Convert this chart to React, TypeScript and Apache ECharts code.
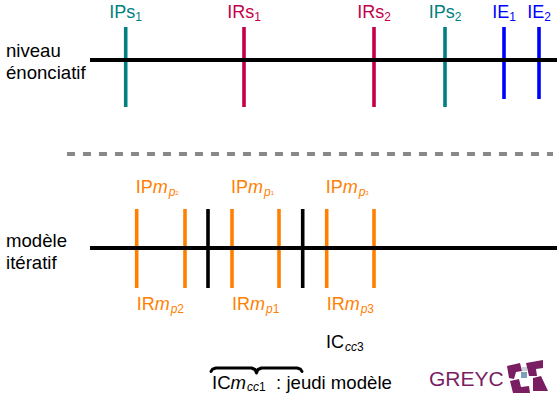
import React, { useEffect, useRef } from 'react';
import * as echarts from 'echarts';

// ---- data (positions on the timeline scale) ----
const levelLabels = ['niveau\nénonciatif', 'modèle\nitératif'];

const enonciatifNames = ['IPs', 'IRs', 'IRs', 'IPs', 'IE', 'IE'];
const enonciatifSubs = ['1', '1', '2', '2', '1', '2'];
const enonciatifX = [125.7, 244, 374, 445, 504, 539];
const enonciatifKind = ['p', 'r', 'r', 'p', 'e', 'e'];

const iteratifOrangeX = [136.7, 185, 232, 279, 326.7, 374];
const iteratifBlackX = [208, 302.7];
const ipmSubs = ['2', '1', '3'];
const ipmX = [136.7, 232, 326.7];
const irmSubs = ['2', '1', '3'];
const irmX = [136.7, 232, 326.7];
const cycleSpan = [211, 302];
const icCc3X = [326];
const icmX = [212];

// ---- layout constants ----
const W = 557;
const H = 401;
const TOP_Y = 60;
const BOT_Y = 248;
const F = '"Liberation Sans", Arial, sans-serif';
const COL: Record<string, string> = {
  p: '#008080',
  r: '#c4004b',
  e: '#0000ff',
  o: '#ff8000',
  k: '#000000',
};

const richFor = (fill: string, fs: number) => ({
  n: { fontSize: fs, fontFamily: F, fill },
  i: { fontSize: fs, fontFamily: F, fontStyle: 'italic', fill },
  s: { fontSize: 12, fontFamily: F, fill, padding: [10, 0, 0, 0] },
  si: { fontSize: 12, fontFamily: F, fontStyle: 'italic', fill, padding: [10, 0, 0, 1] },
  sc: { fontSize: 6, fontFamily: F, fill, padding: [12, 0, 0, 0] },
});

function tickSeries(xs: number[], y0: number, y1: number, color: string, w = 3.6) {
  return {
    type: 'custom',
    coordinateSystem: 'cartesian2d',
    silent: true,
    data: xs.map((x) => [x, y0, y1]),
    renderItem: (_p: any, api: any) => {
      const a = api.coord([api.value(0), api.value(1)]);
      const b = api.coord([api.value(0), api.value(2)]);
      return {
        type: 'rect',
        shape: { x: a[0] - w / 2, y: Math.min(a[1], b[1]), width: w, height: Math.abs(b[1] - a[1]) },
        style: { fill: color },
      };
    },
  };
}

function labelSeries(xs: number[], y: number, texts: string[], fills: string[], align: string, fs = 18) {
  return {
    type: 'custom',
    coordinateSystem: 'cartesian2d',
    silent: true,
    data: xs.map((x) => [x, y]),
    renderItem: (params: any, api: any) => {
      const p = api.coord([api.value(0), api.value(1)]);
      const fill = fills[params.dataIndex % fills.length];
      return {
        type: 'text',
        x: p[0],
        y: p[1],
        style: {
          text: texts[params.dataIndex],
          rich: richFor(fill, fs),
          fill,
          font: `${fs}px ${F}`,
          align,
          verticalAlign: 'middle',
        },
      };
    },
  };
}

function axisLine(y: number, x0: number, x1: number, color: string, width: number, type: any) {
  return {
    type: 'line',
    silent: true,
    symbol: 'none',
    data: [
      [x0, y],
      [x1, y],
    ],
    lineStyle: { color, width, type },
  };
}

export default function App() {
  const ref = useRef<HTMLDivElement>(null);
  useEffect(() => {
    if (!ref.current) return;
    const chart = echarts.init(ref.current, null, { renderer: 'svg' });
    const topBlueX = enonciatifX.filter((_, i) => enonciatifKind[i] === 'e');
    const topTealX = enonciatifX.filter((_, i) => enonciatifKind[i] === 'p');
    const topRedX = enonciatifX.filter((_, i) => enonciatifKind[i] === 'r');

    const option: any = {
      animation: false,
      backgroundColor: '#ffffff',
      grid: { left: 0, right: 0, top: 0, bottom: 0 },
      xAxis: { type: 'value', min: 0, max: W, show: false },
      yAxis: { type: 'value', min: 0, max: H, inverse: true, show: false },
      series: [
        axisLine(TOP_Y, 90, W, '#000', 4.2, 'solid'),
        axisLine(BOT_Y, 90, W, '#000', 4.2, 'solid'),
        axisLine(154, 67, 553, '#888888', 4, [8, 8]),
        tickSeries(topTealX, 27, 107, COL.p),
        tickSeries(topRedX, 27, 107, COL.r),
        tickSeries(topBlueX, 27, 99, COL.e),
        tickSeries(iteratifOrangeX, 209, 288, COL.o),
        tickSeries(iteratifBlackX, 209, 288, COL.k),
        labelSeries(
          enonciatifX,
          12,
          enonciatifNames.map((n, i) => `{n|${n}}{s|${enonciatifSubs[i]}}`),
          enonciatifKind.map((k) => COL[k]),
          'center'
        ),
        labelSeries(
          ipmX.map((x) => x - 1),
          187,
          ipmSubs.map((s) => `{n|IP}{i|m}{si|p}{sc|${s}}`),
          [COL.o],
          'left'
        ),
        labelSeries(
          irmX,
          304,
          irmSubs.map((s) => `{n|IR}{i|m}{si|p}{s|${s}}`),
          [COL.o],
          'left'
        ),
        labelSeries(icCc3X, 342, ['{n|IC}{si|cc}{s|3}'], [COL.k], 'left'),
        labelSeries(icmX, 382, ['{n|IC}{i|m}{si|cc}{s|1}{n|  : jeudi modèle}'], [COL.k], 'left', 18.6),
        {
          type: 'custom',
          coordinateSystem: 'cartesian2d',
          silent: true,
          data: [[cycleSpan[0], cycleSpan[1], 368]],
          renderItem: (_p: any, api: any) => {
            const a = api.coord([api.value(0), api.value(2)]);
            const b = api.coord([api.value(1), api.value(2)]);
            const x0 = a[0];
            const x1 = b[0];
            const y = a[1];
            const xm = (x0 + x1) / 2;
            return {
              type: 'polyline',
              shape: {
                points: [
                  [x0, y + 3.5],
                  [x0 + 1.5, y + 1.2],
                  [x0 + 5, y],
                  [xm - 5, y],
                  [xm - 1.5, y + 1.5],
                  [xm, y + 5],
                  [xm + 1.5, y + 1.5],
                  [xm + 5, y],
                  [x1 - 5, y],
                  [x1 - 1.5, y + 1.2],
                  [x1, y + 3.5],
                ],
              },
              style: { stroke: '#000', lineWidth: 3, fill: 'none', lineJoin: 'round', lineCap: 'round' },
            };
          },
        },
      ],
      graphic: [
        {
          type: 'text',
          left: 6,
          top: 39,
          style: { text: levelLabels[0], font: `18.6px ${F}`, fill: '#000', lineHeight: 22 },
        },
        {
          type: 'text',
          left: 6,
          top: 229,
          style: { text: levelLabels[1], font: `18.6px ${F}`, fill: '#000', lineHeight: 22 },
        },
        {
          type: 'text',
          left: 429,
          top: 368,
          style: { text: 'GREYC', font: `21px ${F}`, fill: '#7a1e64' },
        },
        { type: 'polygon', shape: { points: [[507, 366], [520, 363], [522, 371], [516, 372], [514, 379], [509, 378]] }, style: { fill: '#7a1e64' } },
        { type: 'polygon', shape: { points: [[526, 363], [543, 360], [543, 368], [536, 369], [537, 376], [529, 376]] }, style: { fill: '#7a1e64' } },
        { type: 'polygon', shape: { points: [[510, 381], [519, 379], [521, 387], [529, 386], [530, 393], [513, 393]] }, style: { fill: '#7a1e64' } },
        { type: 'polygon', shape: { points: [[533, 378], [541, 376], [548, 391], [533, 391]] }, style: { fill: '#7a1e64' } },
        { type: 'rect', shape: { x: 521, y: 372, width: 6, height: 6 }, style: { fill: '#7f9fb7' } },
        { type: 'rect', shape: { x: 522, y: 367, width: 5, height: 4 }, style: { fill: '#c9d2da' } },
      ],
    };
    chart.setOption(option);
    return () => chart.dispose();
  }, []);
  return <div ref={ref} style={{ position: 'fixed', left: 0, top: 0, width: W, height: H, background: '#fff' }} />;
}
